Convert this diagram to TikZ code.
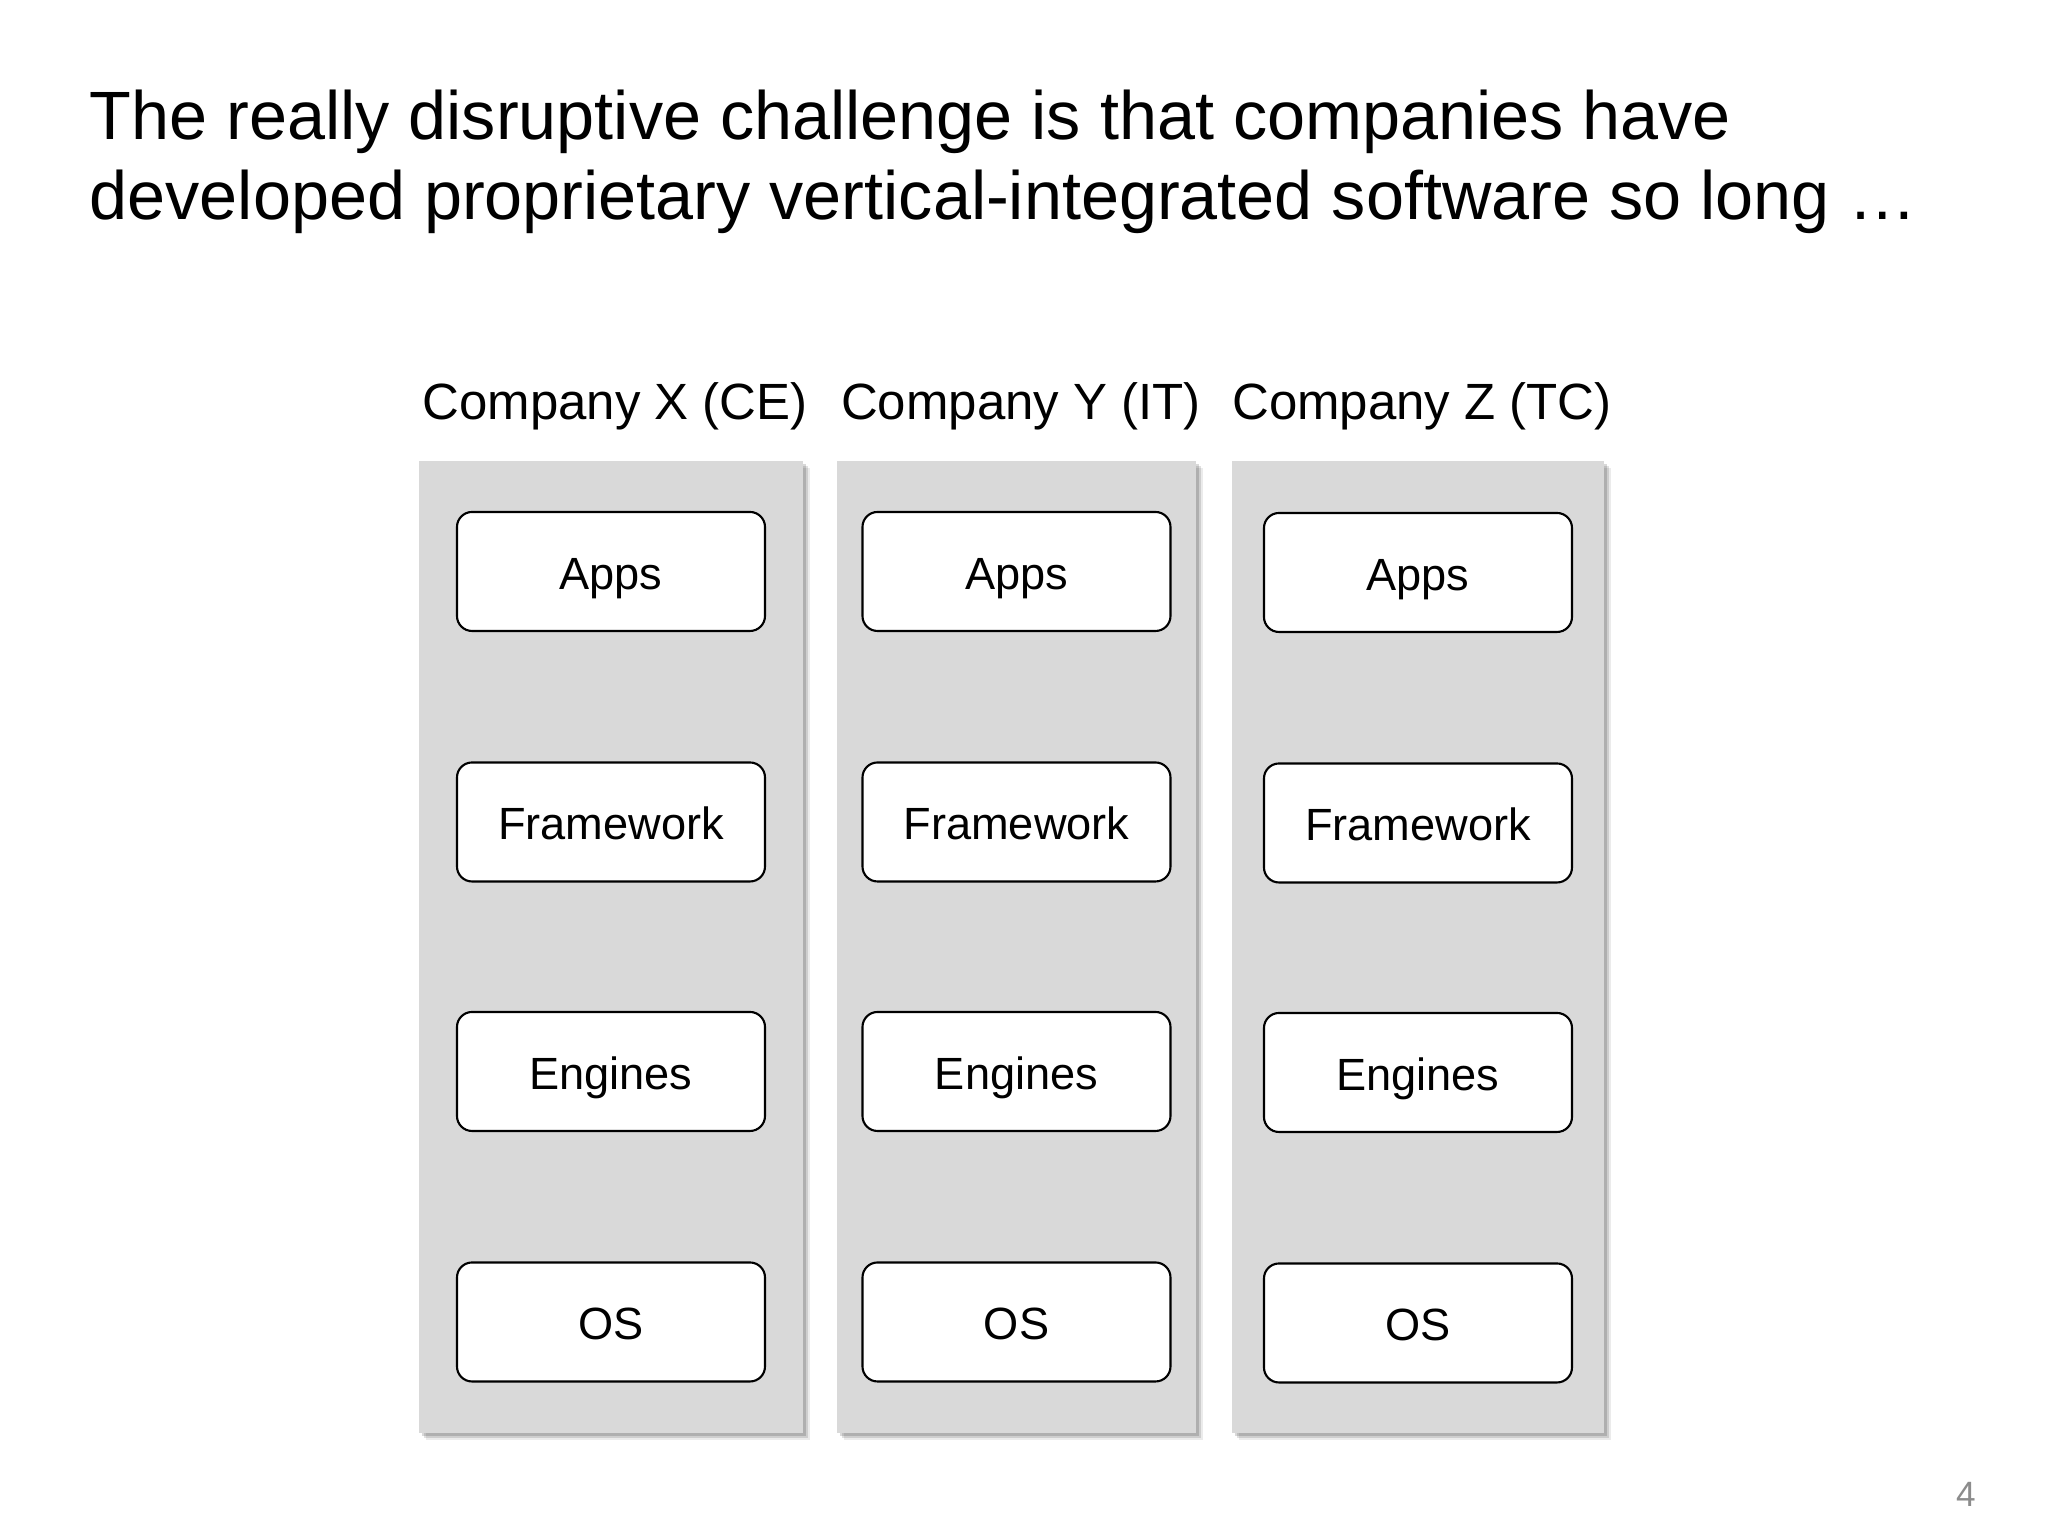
\documentclass[tikz,border=0pt]{standalone}
\usepackage{xcolor}
\usepackage{fontspec}
\setmainfont{Liberation Sans}
\usepackage{tikz}
\usetikzlibrary{shapes,positioning,calc,shadows}

\definecolor{stackgray}{HTML}{D9D9D9}
\definecolor{pagegray}{HTML}{8C8C8C}

\tikzset{
    stack/.style={fill=stackgray,
                  drop shadow={shadow xshift=0.7mm, shadow yshift=-0.7mm, fill=black, opacity=0.08},
                  drop shadow={shadow xshift=0.5mm, shadow yshift=-0.5mm, fill=black, opacity=0.12},
                  drop shadow={shadow xshift=0.3mm, shadow yshift=-0.3mm, fill=black, opacity=0.15}},
    layer/.style={draw, fill=white, line width=0.6pt, rounded corners=1.5mm,
                  minimum width=3.08cm, minimum height=1.19cm,
                  text height=4.6mm, text depth=1mm, font=\fontsize{12.85}{15}\selectfont},
    company/.style={anchor=base, font=\fontsize{14.5}{17}\selectfont}
}

\begin{document}
\begin{tikzpicture}
    \useasboundingbox (0,0) rectangle (20.48,15.36);

    % title
    \node[anchor=base west, align=left, inner sep=0pt, font=\fontsize{19.45}{23}\selectfont] (title) at (0.89,13.16)
        {The really disruptive challenge is that companies have\\developed proprietary vertical-integrated software so long \dots};

    % the three stacks
    \path[stack] (4.19,1.03) rectangle (8.03,10.75);
    \path[stack] (8.37,1.03) rectangle (11.96,10.75);
    \path[stack] (12.32,1.03) rectangle (16.04,10.75);

    \node[company] (compX) at (6.15,11.16) {Company X (CE)};
    \node[company] (compY) at (10.21,11.16) {Company Y (IT)};
    \node[company] (compZ) at (14.22,11.16) {Company Z (TC)};

    \node[layer] (appsX) at (6.11,9.645) {Apps};
    \node[layer] (frameX) at (6.11,7.14) {Framework};
    \node[layer] (engX) at (6.11,4.645) {Engines};
    \node[layer] (osX) at (6.11,2.14) {OS};

    \node[layer] (appsY) at (10.165,9.645) {Apps};
    \node[layer] (frameY) at (10.165,7.14) {Framework};
    \node[layer] (engY) at (10.165,4.645) {Engines};
    \node[layer] (osY) at (10.165,2.14) {OS};

    \node[layer] (appsZ) at (14.18,9.635) {Apps};
    \node[layer] (frameZ) at (14.18,7.13) {Framework};
    \node[layer] (engZ) at (14.18,4.635) {Engines};
    \node[layer] (osZ) at (14.18,2.13) {OS};

    % page number
    \node[anchor=base, text=pagegray, font=\fontsize{10}{12}\selectfont] (pagenum) at (19.66,0.29) {4};
\end{tikzpicture}
\end{document}
